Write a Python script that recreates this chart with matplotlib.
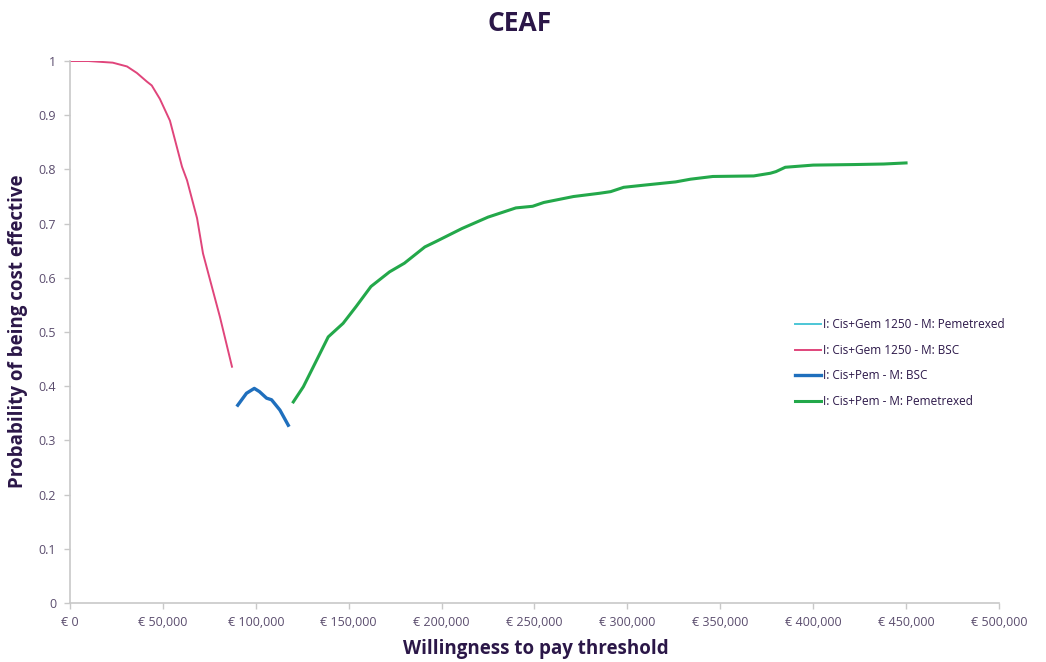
import matplotlib
matplotlib.use("Agg")
import matplotlib.pyplot as plt
from matplotlib.ticker import FuncFormatter, MultipleLocator

# Willingness-to-pay thresholds (EUR) and probability of being cost effective
wtp_gem_bsc = [0, 10000, 23000, 30700, 36000, 41400, 44000, 48400, 53800, 60300,
               63000, 68400, 71600, 75400, 80700, 87200]
p_gem_bsc = [1.0, 1.0, 0.997, 0.99, 0.978, 0.962, 0.955, 0.93, 0.89, 0.805,
             0.78, 0.71, 0.645, 0.596, 0.528, 0.436]

wtp_pem_bsc = [90300, 95000, 99200, 102000, 105800, 108500, 113000, 117500]
p_pem_bsc = [0.365, 0.387, 0.396, 0.39, 0.378, 0.375, 0.356, 0.328]

wtp_pem_pem = [120200, 125600, 131000, 139000, 147000, 154000, 162000, 172000,
               180000, 191000, 197000, 211000, 225000, 240000, 249000, 255000,
               271000, 285000, 291000, 298000, 309000, 326000, 334000, 346000,
               368000, 377000, 380000, 385000, 400000, 422000, 438000, 450000]
p_pem_pem = [0.371, 0.399, 0.436, 0.491, 0.516, 0.547, 0.584, 0.611,
             0.627, 0.657, 0.667, 0.691, 0.712, 0.729, 0.732, 0.739,
             0.75, 0.756, 0.759, 0.767, 0.771, 0.777, 0.782, 0.787,
             0.788, 0.793, 0.796, 0.804, 0.808, 0.809, 0.81, 0.812]

labels = ["I: Cis+Gem 1250 - M: Pemetrexed",
          "I: Cis+Gem 1250 - M: BSC",
          "I: Cis+Pem - M: BSC",
          "I: Cis+Pem - M: Pemetrexed"]

dark = "#2b1748"
tick_col = "#5b4d6e"
axis_col = "#c8c8c8"

fig = plt.figure(figsize=(10.46, 6.62), dpi=100)
ax = fig.add_axes([0.0669, 0.0891, 0.8881, 0.8187])

ax.plot([], [], color="#4cc6d6", lw=1.4, label=labels[0])
ax.plot(wtp_gem_bsc, p_gem_bsc, color="#e0457b", lw=1.4, label=labels[1])
ax.plot(wtp_pem_bsc, p_pem_bsc, color="#1f6fbd", lw=2.4, label=labels[2])
ax.plot(wtp_pem_pem, p_pem_pem, color="#23a84a", lw=2.2, label=labels[3])

ax.set_xlim(0, 500000)
ax.set_ylim(0, 1)
ax.xaxis.set_major_locator(MultipleLocator(50000))
ax.yaxis.set_major_locator(MultipleLocator(0.1))
ax.xaxis.set_major_formatter(FuncFormatter(lambda v, p: "€ {:,.0f}".format(v)))
ax.yaxis.set_major_formatter(FuncFormatter(lambda v, p: "{:g}".format(round(v, 1))))

for s in ["top", "right"]:
    ax.spines[s].set_visible(False)
for s in ["left", "bottom"]:
    ax.spines[s].set_color(axis_col)
    ax.spines[s].set_linewidth(1.2)
ax.tick_params(axis="both", colors=axis_col, length=4, width=1, labelcolor=tick_col,
               labelsize=9)
ax.tick_params(axis="x", pad=5)
ax.tick_params(axis="y", pad=6)
for t in ax.get_xticklabels() + ax.get_yticklabels():
    t.set_fontfamily("Open Sans")

fig.text(0.497, 0.965, "CEAF", ha="center", va="center", fontsize=19,
         fontweight="bold", color=dark, family="Open Sans")
fig.text(0.512, 0.02, "Willingness to pay threshold", ha="center", va="center",
         fontsize=13.5, fontweight="bold", color=dark, family="Open Sans")
fig.text(0.017, 0.5, "Probability of being cost effective", ha="center", va="center",
         rotation=90, fontsize=13.5, fontweight="bold", color=dark, family="Open Sans")

leg = ax.legend(loc="upper left", bbox_to_anchor=(0.75, 0.535), bbox_transform=fig.transFigure,
                frameon=False, handlelength=2.2, handletextpad=0.15,
                labelspacing=1.05, prop={"family": "Open Sans", "size": 8.5})
for t in leg.get_texts():
    t.set_color(dark)

fig.savefig("out.png", dpi=100, facecolor="white")
